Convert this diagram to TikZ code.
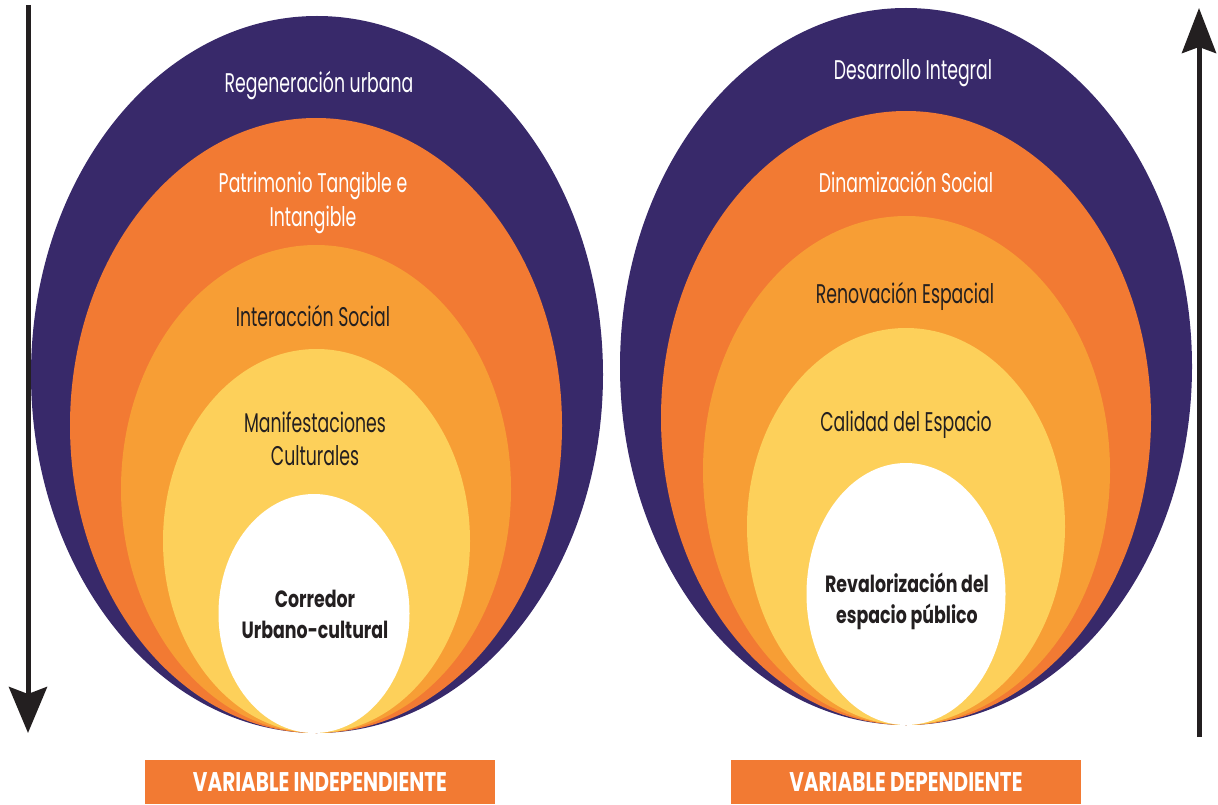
\documentclass[tikz,border=0pt]{standalone}
\usepackage{fontspec}
\setmainfont{Poppins}[UprightFeatures={FakeStretch=0.64}, BoldFeatures={FakeStretch=0.74}]
\usetikzlibrary{arrows.meta}
\definecolor{deeppurple}{HTML}{38296A}
\definecolor{burntorange}{HTML}{F27A33}
\definecolor{amber}{HTML}{F79E35}
\definecolor{sunyellow}{HTML}{FDD05A}
\definecolor{inkdark}{HTML}{231F20}
\tikzset{
    layer/.style = {align=center, anchor=base, font=\fontsize{27}{33}\selectfont},
    lighttext/.style = {layer, text=white},
    darktext/.style = {layer, text=inkdark},
    coretext/.style = {layer, text=inkdark, font=\fontsize{23.5}{31}\selectfont\bfseries},
    varbox/.style = {fill=burntorange, text=white, minimum width=350pt, minimum height=44pt,
        inner sep=0pt, font=\fontsize{27}{30}\selectfont\bfseries},
    axis/.style = {line width=5pt, draw=inkdark}}

\begin{document}
\begin{tikzpicture}[x=1pt,y=-1pt]
    \useasboundingbox (0,0) rectangle (1218,805);
    % independent side
    \fill[deeppurple]  (317,374.5) ellipse [x radius=286pt, y radius=358.5pt];
    \fill[burntorange] (316,425.5) ellipse [x radius=246pt, y radius=307.5pt];
    \fill[amber]       (316,489)   ellipse [x radius=195pt, y radius=244pt];
    \fill[sunyellow]   (316.5,541) ellipse [x radius=153.5pt, y radius=192pt];
    \fill[white]       (314,613.5) ellipse [x radius=95.5pt, y radius=119.5pt];
    % dependent side
    \fill[deeppurple]  (906,366.5) ellipse [x radius=286pt, y radius=358.5pt];
    \fill[burntorange] (906,418)   ellipse [x radius=245pt, y radius=307pt];
    \fill[amber]       (906.5,470.5) ellipse [x radius=203.5pt, y radius=254.5pt];
    \fill[sunyellow]   (906,526.5) ellipse [x radius=159pt, y radius=198.5pt];
    \fill[white]       (906,594)   ellipse [x radius=99.5pt, y radius=131pt];

    \path (319,93) node[lighttext] (regen) {Regeneración urbana}
        (313,226) node[lighttext] (patri) {Patrimonio Tangible e\\Intangible}
        (313,326) node[darktext] (inter) {Interacción Social}
        (315,465) node[darktext] (manif) {Manifestaciones\\Culturales}
        (315,638) node[coretext] (corr) {Corredor\\Urbano-cultural};
    \path (913,80) node[lighttext] (desar) {Desarrollo Integral}
        (906,193) node[lighttext] (dinam) {Dinamización Social}
        (905,303) node[darktext] (renov) {Renovación Espacial}
        (906,431) node[darktext] (calid) {Calidad del Espacio}
        (907,623) node[coretext] (reval) {Revalorización del\\espacio público};

    \node[varbox] (indep) at (320,782) {VARIABLE INDEPENDIENTE};
    \node[varbox] (dep) at (906,782) {VARIABLE DEPENDIENTE};

    \coordinate (downtop) at (28,5);
    \coordinate (downtip) at (28,733);
    \coordinate (upfoot) at (1199,737);
    \coordinate (uptip) at (1199,8);
    \draw[axis, -{Stealth[length=46pt,width=38pt,inset=7pt]}] (downtop) -- (downtip);
    \draw[axis, -{Stealth[length=45pt,width=34pt,inset=6pt]}] (upfoot) -- (uptip);
\end{tikzpicture}
\end{document}
